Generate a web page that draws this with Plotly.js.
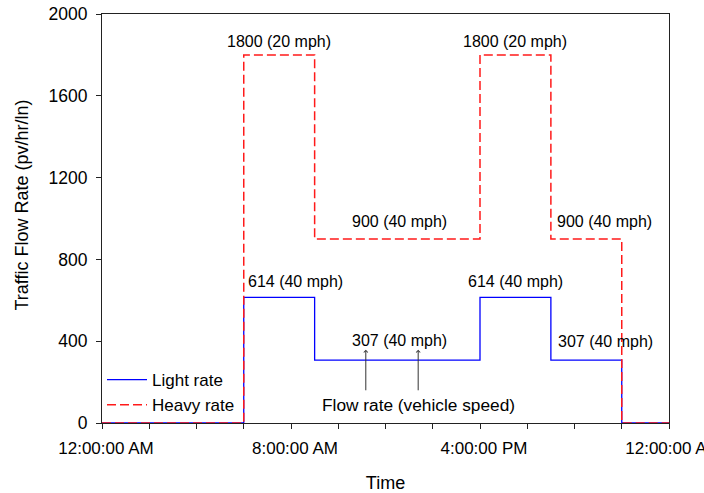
<!DOCTYPE html>
<html>
<head>
<meta charset="utf-8">
<script src="https://cdn.plot.ly/plotly-3.0.1.min.js"></script>
<style>
  html, body { margin: 0; padding: 0; background: #fff; }
  #chart { width: 704px; height: 493px; }
</style>
</head>
<body>
<div id="chart"></div>
<script>
// Hour of day at which each flow-rate step begins (24 closes the day)
const stepHours = [0, 6, 9, 16, 19, 22, 24];
// Flow rate (pv/hr/ln) holding from each step hour
const lightRate = [0, 614, 307, 614, 307, 0, 0];
const heavyRate = [0, 1800, 900, 1800, 900, 0, 0];
// Vehicle speed (mph) for each step, null where no flow
const lightSpeed = [null, 40, 40, 40, 40, null, null];
const heavySpeed = [null, 20, 40, 20, 40, null, null];
// Tick labels along the time axis
const tickHours = [0, 8, 16, 24];
const tickLabels = ['12:00:00 AM', '8:00:00 AM', '4:00:00 PM', '12:00:00 AM'];

function hourToDate(h) {
  const day = h >= 24 ? 2 : 1;
  const hh = h % 24;
  const whole = Math.floor(hh);
  const mins = Math.round((hh - whole) * 60);
  return '2000-01-0' + day + ' ' + String(whole).padStart(2, '0') + ':' + String(mins).padStart(2, '0');
}

const times = stepHours.map(hourToDate);
const FONT = 'Liberation Sans, Arial, sans-serif';

const traces = [
  {
    x: times, y: lightRate, name: 'Light rate', type: 'scatter', mode: 'lines',
    line: { shape: 'hv', color: '#0000ff', width: 1.3 }
  },
  {
    x: times, y: heavyRate, name: 'Heavy rate', type: 'scatter', mode: 'lines',
    line: { shape: 'hv', color: '#ff1a1a', width: 1.5, dash: '9px,4px' }
  }
];

function rateLabel(rate, speed, i) {
  return rate[i] + ' (' + speed[i] + ' mph)';
}

// Label placement: [series, step index, hour for label centre, pixel lift]
const labelSpots = [
  ['heavy', 1, 7.5, 3],
  ['heavy', 2, 12.6, 7],
  ['heavy', 3, 17.5, 3],
  ['heavy', 4, 21.25, 7],
  ['light', 1, 8.18, 5],
  ['light', 2, 12.6, 9],
  ['light', 3, 17.5, 5],
  ['light', 4, 21.3, 8]
];

const annotations = labelSpots.map(([series, i, hx, lift]) => {
  const rate = series === 'heavy' ? heavyRate : lightRate;
  const speed = series === 'heavy' ? heavySpeed : lightSpeed;
  return {
    x: hourToDate(hx), y: rate[i], xref: 'x', yref: 'y',
    text: rateLabel(rate, speed, i), showarrow: false,
    xanchor: 'center', yanchor: 'bottom', yshift: lift,
    font: { family: FONT, size: 16, color: '#000' }
  };
});

// Two pointers from the explanatory note up to the value / speed parts of a label
[11.17, 13.39].forEach(hx => {
  annotations.push({
    x: hourToDate(hx), y: 358, xref: 'x', yref: 'y',
    ax: 0, ay: 42, showarrow: true, text: '',
    arrowhead: 4, arrowsize: 0.8, arrowwidth: 1, arrowcolor: '#333'
  });
});
annotations.push({
  x: hourToDate(13.38), y: 89, xref: 'x', yref: 'y',
  text: 'Flow rate (vehicle speed)', showarrow: false,
  xanchor: 'center', yanchor: 'middle',
  font: { family: FONT, size: 17.3, color: '#000' }
});

// Vertical axis title, set slightly above the plot's mid-height
annotations.push({
  x: -0.141, y: 0.532, xref: 'paper', yref: 'paper',
  text: 'Traffic Flow Rate (pv/hr/ln)', textangle: -90, showarrow: false,
  xanchor: 'center', yanchor: 'middle',
  font: { family: FONT, size: 18, color: '#000' }
});

const layout = {
  width: 704, height: 493,
  margin: { l: 102, r: 35, t: 14, b: 70 },
  paper_bgcolor: '#fff', plot_bgcolor: '#fff',
  font: { family: FONT, size: 17, color: '#000' },
  showlegend: true,
  legend: {
    x: 0, y: 0, xanchor: 'left', yanchor: 'bottom',
    bgcolor: 'rgba(0,0,0,0)', borderwidth: 0,
    font: { family: FONT, size: 17, color: '#000' },
    itemwidth: 40, tracegroupgap: 0
  },
  xaxis: {
    type: 'date',
    range: [hourToDate(0), hourToDate(24)],
    tickmode: 'array',
    tickvals: tickHours.map(hourToDate),
    ticktext: tickLabels,
    ticks: 'outside', ticklen: 5, tickwidth: 1, tickcolor: '#222',
    ticklabelstandoff: 5, ticklabelshift: 4, ticklabeloverflow: 'allow',
    minor: { ticks: 'outside', dtick: 2 * 3600 * 1000, ticklen: 5, tickwidth: 1, tickcolor: '#222' },
    showgrid: false, zeroline: false,
    showline: true, linecolor: '#222', linewidth: 1, mirror: true,
    title: { text: 'Time', font: { family: FONT, size: 18, color: '#000' }, standoff: 18 },
    tickfont: { family: FONT, size: 17, color: '#000' }
  },
  yaxis: {
    range: [0, 2000], dtick: 400, tick0: 0,
    ticks: 'outside', ticklen: 5, tickwidth: 1, tickcolor: '#222',
    ticklabelstandoff: 5,
    showgrid: false, zeroline: false,
    showline: true, linecolor: '#222', linewidth: 1, mirror: true,
    tickfont: { family: FONT, size: 17.5, color: '#000' }
  },
  annotations: annotations
};

Plotly.newPlot('chart', traces, layout, { displayModeBar: false, responsive: false });
</script>
</body>
</html>
